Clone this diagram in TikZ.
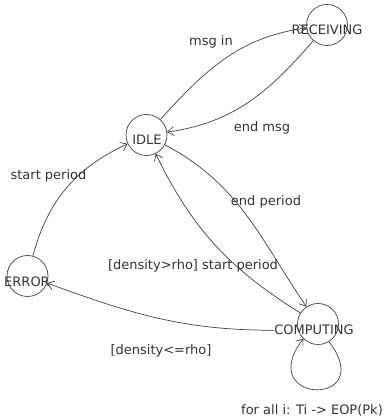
\documentclass[tikz,border=0pt]{standalone}
\usepackage{fontspec}
\setmainfont{DejaVu Sans}
\usetikzlibrary{arrows.meta,calc}
\begin{document}
\begin{tikzpicture}[x=1pt,y=1pt,
  state/.style={circle,draw=black!75,line width=0.7pt,minimum size=41pt,inner sep=0pt},
  txt/.style={inner sep=0pt,anchor=base,font=\fontsize{13}{15}\selectfont,text=black!80},
  arr/.style={draw=black!75,line width=0.7pt,-{Straight Barb[length=6pt,width=9pt]}}]
\useasboundingbox (0,0) rectangle (390,419);
% states
\node[state] (R) at (327,394) {};
\node[state] (I) at (146.5,284) {};
\node[state] (E) at (27.5,143) {};
\node[state] (C) at (318,95) {};
\node[txt] (Rt) at (327,384) {RECEIVING};
\node[txt] (It) at (147,274) {IDLE};
\node[txt] (Et) at (27,132) {ERROR};
\node[txt] (Ct) at (314,84) {COMPUTING};
% transitions
\draw[arr] (I) to[out=48,in=188] (R);
\draw[arr] (R) to[out=229,in=8] (I);
\draw[arr] (E) to[out=75,in=205] (I);
\draw[arr] (I) to[out=-28,in=124] (C);
\draw[arr] (C) to[out=148,in=-64] (I);
\draw[arr] (Ct.west) to[out=180,in=-20] (E);
\draw[arr] (C.-58) .. controls +(50,-66) and +(-50,-66) .. (C.-135);
% labels
\node[txt] (l1) at (211,373) {msg in};
\node[txt] (l2) at (262,287) {end msg};
\node[txt] (l3) at (48.5,239) {start period};
\node[txt] (l4) at (266,213) {end period};
\node[txt] (l5) at (193,149) {[density>rho] start period};
\node[txt] (l6) at (161,64) {[density<=rho]};
\node[txt] (l7) at (312,5) {for all i: Ti -> EOP(Pk)};
\end{tikzpicture}
\end{document}
